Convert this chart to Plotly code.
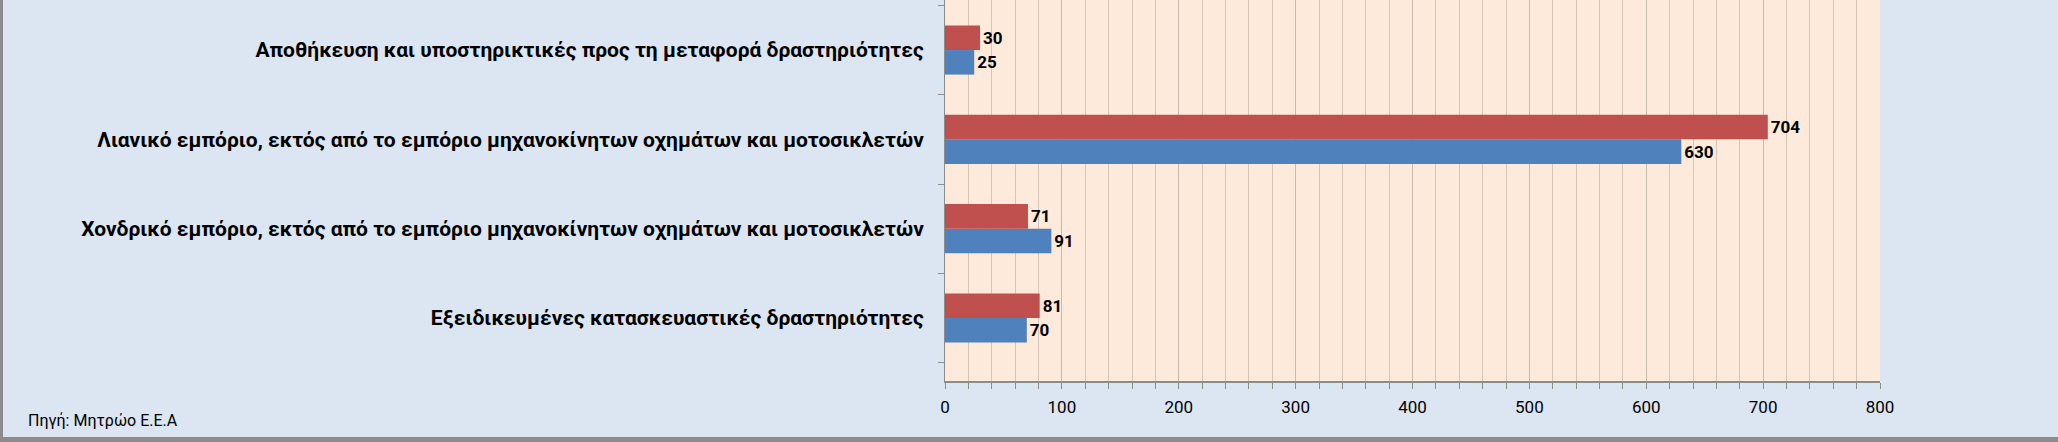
import plotly.graph_objects as go

# Data (bottom to top, as plotly draws categories).
categories = [
    "Εξειδικευμένες κατασκευαστικές δραστηριότητες",
    "Χονδρικό εμπόριο, εκτός από το εμπόριο μηχανοκίνητων οχημάτων και μοτοσικλετών",
    "Λιανικό εμπόριο, εκτός από το εμπόριο μηχανοκίνητων οχημάτων και μοτοσικλετών",
    "Αποθήκευση και υποστηρικτικές προς τη μεταφορά δραστηριότητες",
]
blue_values = [70, 91, 630, 25]
red_values = [81, 71, 704, 30]
x_ticks = [0, 100, 200, 300, 400, 500, 600, 700, 800]
source_text = "Πηγή: Μητρώο Ε.Ε.Α"

W, H = 2058, 442
L, R, T, B = 945, 178, 0, 61
plot_w = W - L - R
plot_h = H - T - B

font_family = "Liberation Sans Narrow, Roboto, sans-serif"
label_font = dict(family=font_family, size=21, color="black")

fig = go.Figure()
fig.add_trace(go.Bar(
    y=categories, x=blue_values, orientation="h", name="Σειρά 1",
    marker=dict(color="#4F81BD", line=dict(width=0)),
    text=blue_values, textposition="outside", cliponaxis=False,
    textfont=dict(family=font_family, size=17, color="black"),
    texttemplate="<b>%{text}</b>",
))
fig.add_trace(go.Bar(
    y=categories, x=red_values, orientation="h", name="Σειρά 2",
    marker=dict(color="#C0504D", line=dict(width=0)),
    text=red_values, textposition="outside", cliponaxis=False,
    textfont=dict(family=font_family, size=17, color="black"),
    texttemplate="<b>%{text}</b>",
))

fig.update_layout(
    width=W, height=H,
    margin=dict(l=L, r=R, t=T, b=B, autoexpand=False),
    barmode="group", bargap=0.45, bargroupgap=0,
    showlegend=False,
    paper_bgcolor="#DCE6F2", plot_bgcolor="#FDEADA",
    font=dict(family=font_family, color="black"),
)

fig.update_xaxes(
    range=[0, 800], tickvals=x_ticks, ticktext=[str(v) for v in x_ticks],
    showgrid=True, gridcolor="#C8BBAE", gridwidth=1,
    minor=dict(dtick=20, showgrid=True, gridcolor="#D5C6B8", ticks="outside",
               ticklen=6, tickcolor="#8C8C8C"),
    ticks="outside", ticklen=6, tickcolor="#8C8C8C",
    showline=True, linecolor="#8C8C8C", linewidth=1.5,
    zeroline=False, tickfont=dict(size=17), ticklabelstandoff=4,
)
fig.update_yaxes(
    type="category", range=[-0.705, 3.56],
    tickson="boundaries", ticks="outside", ticklen=6, tickcolor="#8C8C8C",
    showline=True, linecolor="#8C8C8C", linewidth=1,
    showgrid=False, tickfont=label_font,
    ticklabelstandoff=16,
    tickprefix="<b>", ticksuffix="</b>",
)

# Source note.
fig.add_annotation(
    text=source_text, xref="paper", yref="paper",
    x=(26 - L) / plot_w, y=(H - B - 420) / plot_h,
    xanchor="left", yanchor="middle", showarrow=False,
    font=dict(family=font_family, size=16, color="black"),
)

# Chart frame (left edge and bottom edge).
fig.add_shape(type="rect", xref="paper", yref="paper",
              x0=(0 - L) / plot_w, x1=(3 - L) / plot_w,
              y0=(H - B - H) / plot_h, y1=(H - B) / plot_h,
              fillcolor="#8C8C8C", line=dict(width=0), layer="above")
fig.add_shape(type="rect", xref="paper", yref="paper",
              x0=(0 - L) / plot_w, x1=(W - L) / plot_w,
              y0=(H - B - H) / plot_h, y1=(H - B - 437) / plot_h,
              fillcolor="#8C8C8C", line=dict(width=0), layer="above")

# Remove the browser's default page margin so the figure fills the window.
fig.write_html("out.html", config={"displayModeBar": False},
               post_script="document.body.style.margin='0';")
